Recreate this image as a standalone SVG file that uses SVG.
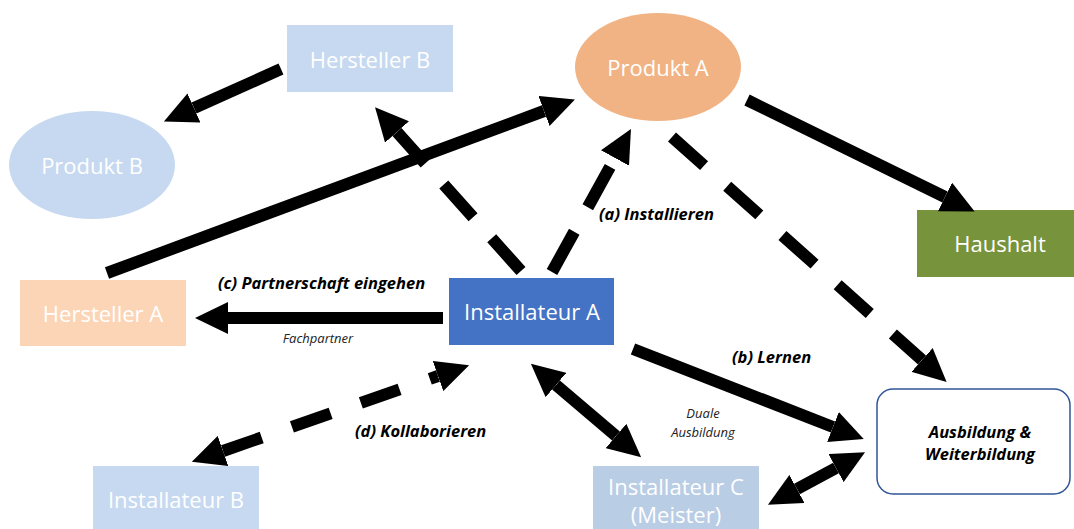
<svg xmlns="http://www.w3.org/2000/svg" width="1074" height="529" viewBox="0 0 1074 529">
<style>
.lbl{font-family:"Open Sans","Noto Sans",sans-serif;font-size:22px;fill:#ffffff;text-anchor:middle;dominant-baseline:central}
.edge{font-family:"Open Sans","Noto Sans",sans-serif;font-size:16.5px;font-weight:bold;font-style:italic;fill:#000;dominant-baseline:central}
.small{font-family:"Open Sans","Noto Sans",sans-serif;font-size:13px;font-style:italic;fill:#222;text-anchor:middle;dominant-baseline:central}
.ln{stroke:#000;stroke-width:12;fill:none}
.d1{stroke-dasharray:44 28}
.d2{stroke-dasharray:46 28}
.d3{stroke-dasharray:43 31}
.d4{stroke-dasharray:41 32}
</style>
<defs>
<marker id="ah" markerUnits="userSpaceOnUse" viewBox="0 0 33 32" refX="0" refY="16" markerWidth="33" markerHeight="32" orient="auto-start-reverse">
<path d="M0,0 L33,16 L0,32 z" fill="#000"/>
</marker>
</defs>
<rect width="1074" height="529" fill="#ffffff"/>

<g id="node-hersteller-b">
<rect x="287" y="25" width="166" height="67" fill="#c6d9f0"/>
<text class="lbl" x="370" y="59">Hersteller B</text>
</g>
<g id="node-produkt-b">
<ellipse cx="92" cy="165" rx="83" ry="54" fill="#c6d9f0"/>
<text class="lbl" x="92" y="165">Produkt B</text>
</g>
<g id="node-produkt-a">
<ellipse cx="658" cy="67" rx="83" ry="54" fill="#f1b384"/>
<text class="lbl" x="658" y="67">Produkt A</text>
</g>
<g id="node-haushalt">
<rect x="917" y="210" width="157" height="67" fill="#77933c"/>
<text class="lbl" x="1000" y="243">Haushalt</text>
</g>
<g id="node-hersteller-a">
<rect x="20" y="280" width="166" height="66" fill="#fbd5b5"/>
<text class="lbl" x="103" y="313">Hersteller A</text>
</g>
<g id="node-installateur-a">
<rect x="449" y="278" width="165" height="67" fill="#4472c4"/>
<text class="lbl" x="532" y="311">Installateur A</text>
</g>
<g id="node-installateur-b">
<rect x="93" y="466" width="166" height="63" fill="#c6d9f0"/>
<text class="lbl" x="176" y="499">Installateur B</text>
</g>
<g id="node-installateur-c">
<rect x="593" y="466" width="166" height="63" fill="#b9cde5"/>
<text class="lbl" x="676" y="486">Installateur C</text>
<text class="lbl" x="676" y="514">(Meister)</text>
</g>
<g id="node-ausbildung">
<rect x="877" y="389" width="193" height="105" rx="16" ry="16" fill="#ffffff" stroke="#2f5597" stroke-width="1.5"/>
<text class="edge" x="980" y="431" text-anchor="middle">Ausbildung &amp;</text>
<text class="edge" x="980" y="453" text-anchor="middle">Weiterbildung</text>
</g>

<g id="connectors">
<path class="ln" d="M281,69 L194,108" marker-end="url(#ah)"/>
<path class="ln" d="M107,273 L544,111" marker-end="url(#ah)"/>
<path class="ln d1" d="M521,271 L397,132" marker-end="url(#ah)"/>
<path class="ln d2" d="M552,272 L615,158" marker-end="url(#ah)"/>
<path class="ln d3" d="M672,137 L922,360" marker-end="url(#ah)"/>
<path class="ln" d="M747,100 L945,197" marker-end="url(#ah)"/>
<path class="ln" d="M443,318 L228,318" marker-end="url(#ah)"/>
<path class="ln d4" d="M223,451 L438,376" marker-start="url(#ah)" marker-end="url(#ah)"/>
<path class="ln" d="M633,349 L833,427" marker-end="url(#ah)"/>
<path class="ln" d="M556,385 L616,436" marker-start="url(#ah)" marker-end="url(#ah)"/>
<path class="ln" d="M797,489 L836,468" marker-start="url(#ah)" marker-end="url(#ah)"/>

<text class="edge" x="599" y="213">(a) Installieren</text>
<text class="edge" x="218" y="282">(c) Partnerschaft eingehen</text>
<text class="small" x="318" y="338">Fachpartner</text>
<text class="edge" x="355" y="430">(d) Kollaborieren</text>
<text class="edge" x="732" y="356">(b) Lernen</text>
<text class="small" x="703" y="413">Duale</text>
<text class="small" x="703" y="432">Ausbildung</text>
</g>
</svg>
